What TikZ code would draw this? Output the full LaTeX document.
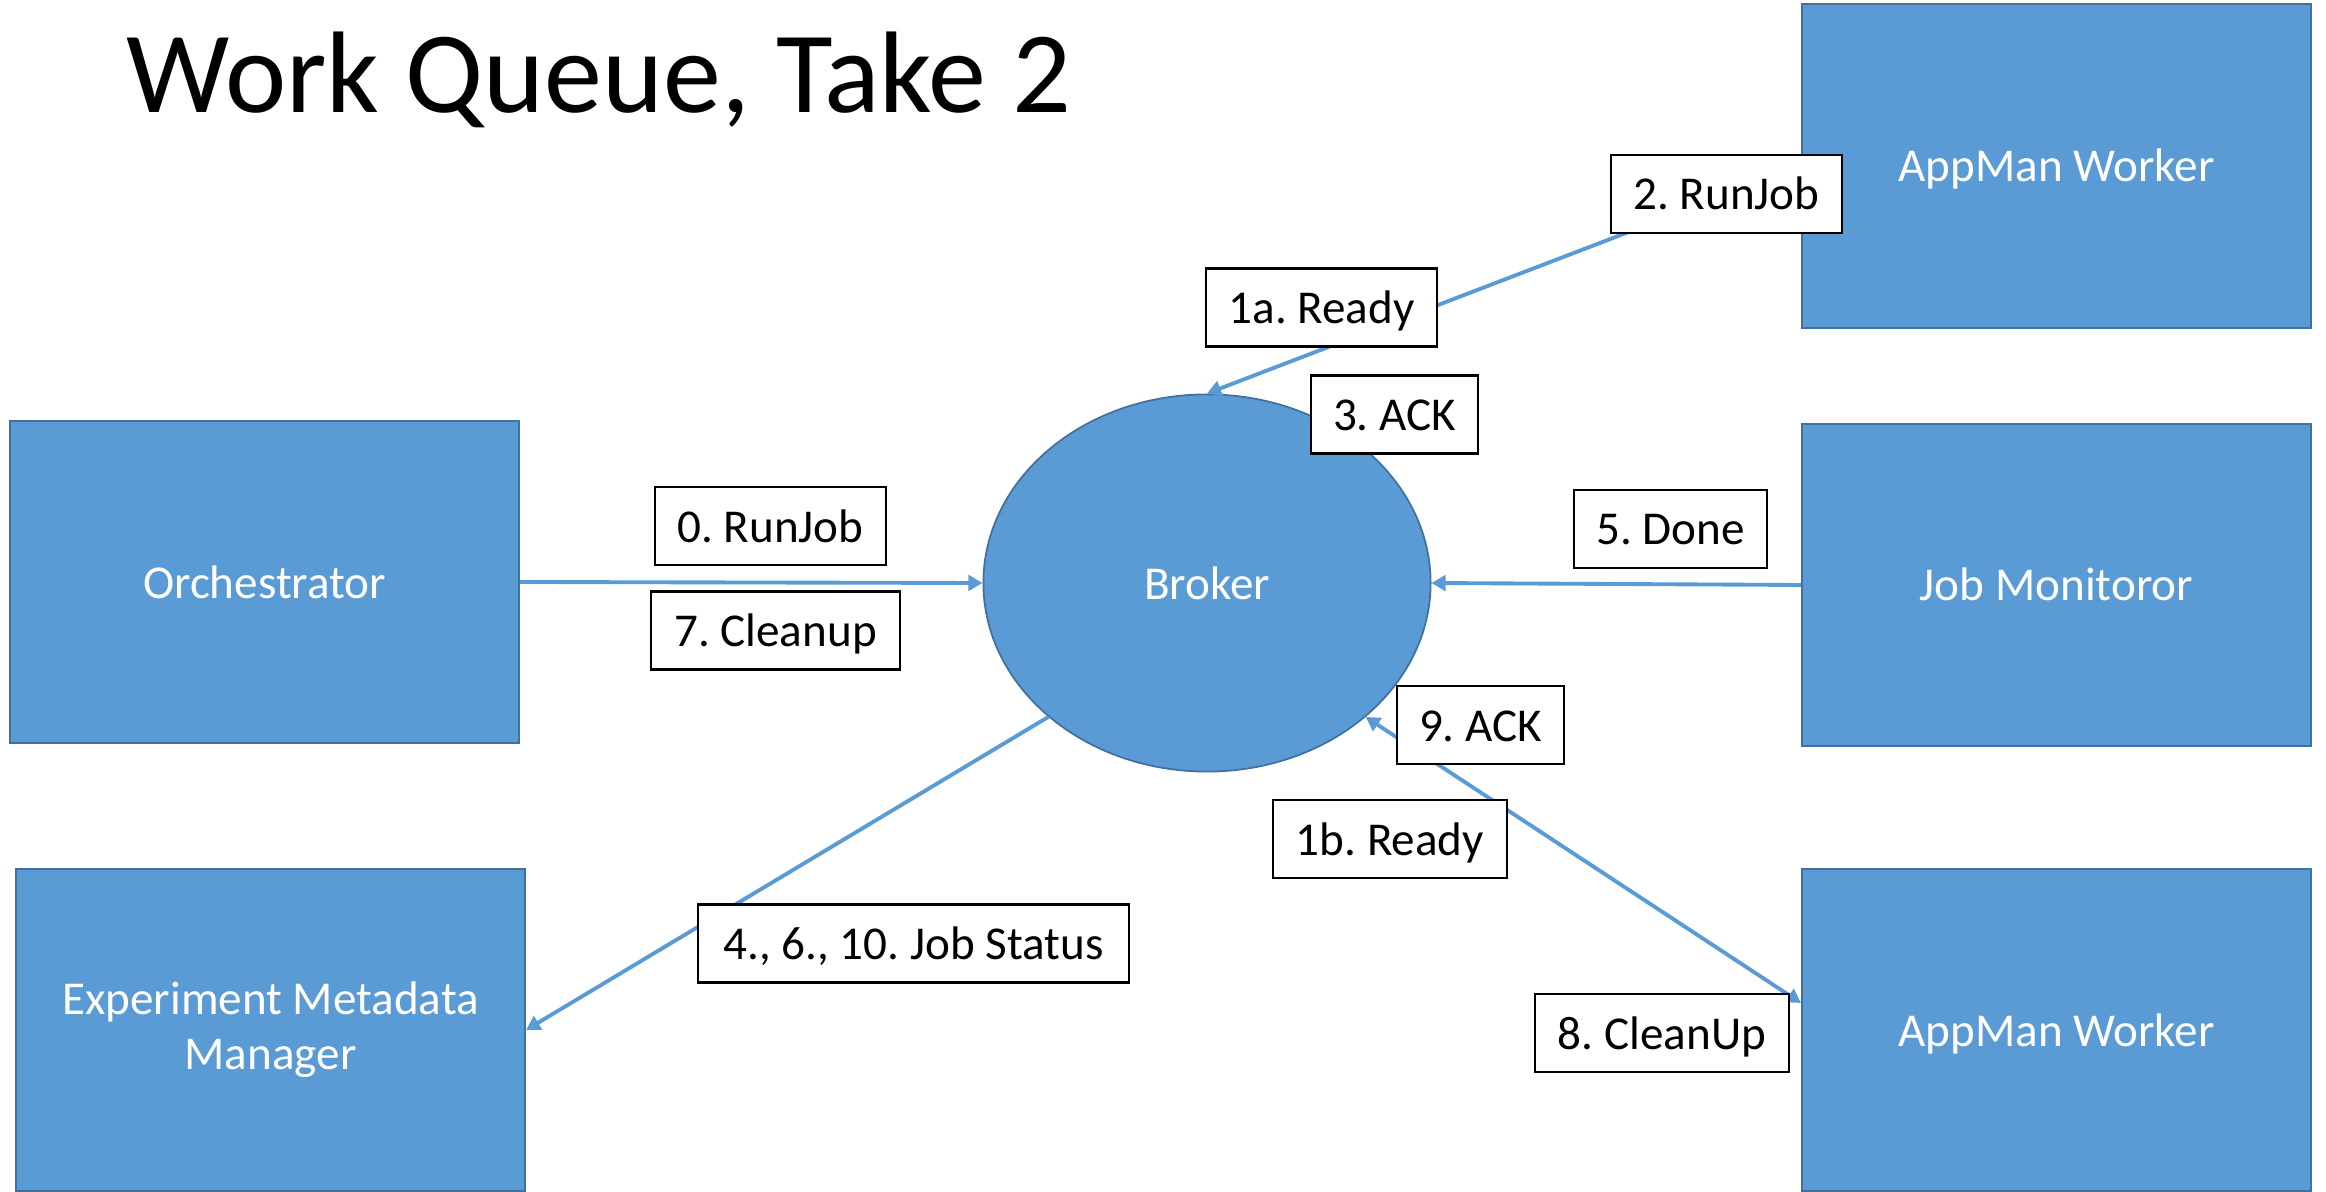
\documentclass[tikz,border=0pt]{standalone}
\usepackage{fontspec}
\setmainfont{Carlito}
\usetikzlibrary{shapes.geometric,arrows.meta,calc}
\definecolor{boxblue}{HTML}{5B9BD5}
\definecolor{boxedge}{HTML}{41719C}
\begin{document}
\frenchspacing
\begin{tikzpicture}[x=0.01cm,y=-0.01cm,
  >={Triangle[length=4pt,width=4.4pt]},
  txt/.style={font=\fontsize{13.4}{15.6}\selectfont\frenchspacing},
  oneline/.style={text height=0.44cm, text depth=0.12cm},
  comp/.style={rectangle, fill=boxblue, draw=boxedge, line width=0.5pt,
    minimum width=5.09cm, minimum height=3.22cm, inner sep=0pt, text=white,
    txt, align=center},
  lbl/.style={rectangle, fill=white, draw=black, line width=0.75pt,
    minimum height=0.78cm, inner xsep=0.05cm, inner ysep=0pt, txt, oneline},
  conn/.style={draw=boxblue, line width=1.1pt},
]
\useasboundingbox (0,0) rectangle (2326,1192);

% title
\node[anchor=base west, inner sep=0pt, font=\fontsize{33}{39}\selectfont\frenchspacing] (title) at (126,113) {Work Queue, Take 2};

% components
\node[comp, oneline, minimum height=3.24cm] (am1) at (2056.5,166) {AppMan Worker};
\node[comp, oneline] (orch) at (264.5,582) {Orchestrator};
\node[comp, oneline] (jm) at (2056.5,585) {Job Monitoror};
\node[comp] (exp) at (270.5,1030) {Experiment Metadata\\Manager};
\node[comp, oneline] (am2) at (2056.5,1030) {AppMan Worker};

\node[ellipse, fill=boxblue, draw=boxedge, line width=0.5pt, inner sep=0pt,
  minimum width=4.47cm, minimum height=3.77cm, text=white, txt, oneline] (br) at (1207,583) {Broker};

% connectors
\draw[conn,->] (am1.west) -- (br.north);
\draw[conn,->] (orch.east) -- (br.west);
\draw[conn,->] (jm.west) -- (br.east);
\draw[conn,->] (br.south west) -- (exp.east);
\coordinate (am2in) at ($(am2.west)+(0,-27)$);
\draw[conn,<->] (am2in) -- (br.south east);

% labels
\node[lbl, minimum width=2.31cm] (l2) at (1726.5,194) {2. RunJob};
\node[lbl, minimum width=2.31cm] (l1a) at (1321.5,307.5) {1a. Ready};
\node[lbl, minimum width=1.67cm] (l3) at (1394.5,414.5) {3. ACK};
\node[lbl, minimum width=2.31cm] (l0) at (770.5,526) {0. RunJob};
\node[lbl, minimum width=2.49cm] (l7) at (775.5,630.5) {7. Cleanup};
\node[lbl, minimum width=1.93cm] (l5) at (1670.5,529) {5. Done};
\node[lbl, minimum width=1.67cm] (l9) at (1480.5,725) {9. ACK};
\node[lbl, minimum width=2.34cm] (l1b) at (1390,839) {1b. Ready};
\node[lbl, minimum width=2.54cm] (l8) at (1662,1033) {8. CleanUp};
\node[lbl, minimum width=4.31cm] (l4) at (913.5,943.5) {4., 6., 10. Job Status};
\end{tikzpicture}
\end{document}
